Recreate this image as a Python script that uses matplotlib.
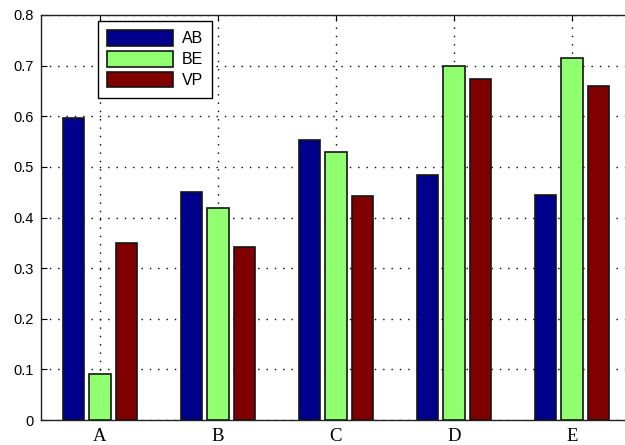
import numpy as np
import matplotlib
matplotlib.use("Agg")
import matplotlib.pyplot as plt

categories = ["A", "B", "C", "D", "E"]
series_names = ["AB", "BE", "VP"]
ab_values = [0.596, 0.451, 0.553, 0.483, 0.444]
be_values = [0.091, 0.418, 0.530, 0.699, 0.715]
vp_values = [0.350, 0.341, 0.442, 0.673, 0.659]
y_ticks = [0, 0.1, 0.2, 0.3, 0.4, 0.5, 0.6, 0.7, 0.8]
y_tick_labels = ["0", "0.1", "0.2", "0.3", "0.4", "0.5", "0.6", "0.7", "0.8"]

colors = ["#00008f", "#90ff70", "#800000"]

W, H = 625, 445
fig = plt.figure(figsize=(W / 100, H / 100), dpi=100)
# axes box in pixel terms: left 41, right 631 (runs past the canvas edge), top 15, bottom 420
ax = fig.add_axes([41 / W, (H - 420) / H, (631 - 41) / W, (420 - 15) / H])

x = np.arange(1, len(categories) + 1)
spacing = 0.222
width = 0.178
series = [ab_values, be_values, vp_values]
for i, (vals, col, name) in enumerate(zip(series, colors, series_names)):
    ax.bar(x + (i - 1) * spacing, vals, width=width, color=col,
           edgecolor="#151515", linewidth=1.2, label=name, zorder=3)

ax.set_xlim(0.5, 5.5)
ax.set_ylim(0, 0.8)
ax.set_xticks(x)
ax.set_xticklabels(categories, family="Liberation Serif", fontsize=13.5)
ax.set_yticks(y_ticks)
ax.set_yticklabels(y_tick_labels, family="Liberation Sans", fontsize=10.5)

ax.tick_params(direction="in", length=4, width=0.8, top=True, right=True, color="black")
ax.tick_params(axis="x", pad=6)
ax.tick_params(axis="y", pad=5)

ax.set_axisbelow(True)
ax.grid(True, color="black", linestyle=(0, (1, 5)), linewidth=1.0)
for sp in ax.spines.values():
    sp.set_linewidth(1.0)
    sp.set_color("#222222")

leg = ax.legend(loc="upper left", bbox_to_anchor=(97.7 / W, 1 - 20.7 / H),
                bbox_transform=fig.transFigure, borderaxespad=0,
                prop={"family": "Liberation Sans", "size": 11.5},
                handlelength=4.1, handleheight=1.1, labelspacing=0.3,
                handletextpad=0.55, borderpad=0.6, fancybox=False,
                framealpha=1, edgecolor="black")
leg.get_frame().set_linewidth(1.0)

fig.savefig("out.png", dpi=100)
